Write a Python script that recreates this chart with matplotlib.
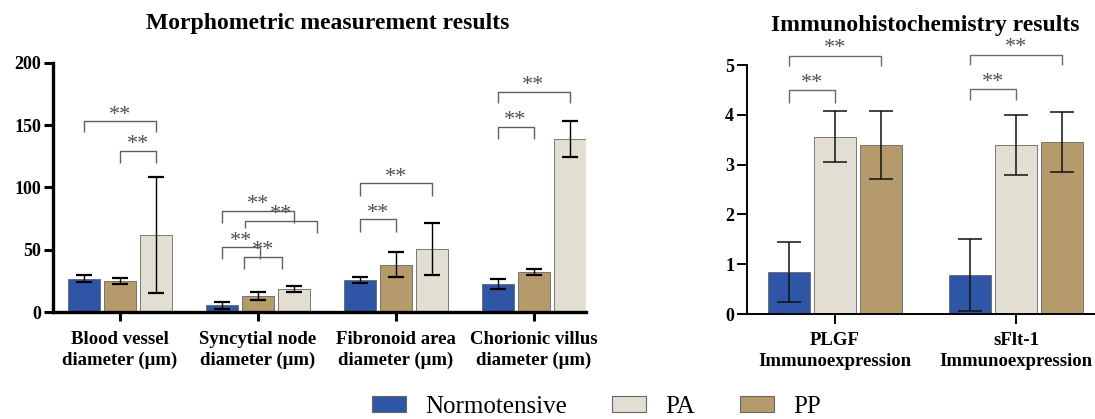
import matplotlib
matplotlib.use("Agg")
import matplotlib.pyplot as plt
from matplotlib.patches import Patch

plt.rcParams['font.family'] = ['Liberation Serif', 'DejaVu Serif']

# ---- data: morphometric measurements (order in each group: Normotensive, PP, PA)
morph_labels = ["Blood vessel\ndiameter (μm)", "Syncytial node\ndiameter (μm)",
                "Fibronoid area\ndiameter (μm)", "Chorionic villus\ndiameter (μm)"]
morph_norm = [27, 5.5, 26, 23]
morph_norm_err = [3, 2.5, 2.5, 4]
morph_pp = [25, 13, 38, 32]
morph_pp_err = [2.5, 3.3, 10, 2.5]
morph_pa = [62, 18.5, 50.5, 139]
morph_pa_err = [46.5, 2.5, 21, 14.5]

# ---- data: immunohistochemistry (order in each group: Normotensive, PA, PP)
ihc_labels = ["PLGF\nImmunoexpression", "sFlt-1\nImmunoexpression"]
ihc_norm = [0.84, 0.78]
ihc_norm_err = [0.6, 0.72]
ihc_pa = [3.56, 3.4]
ihc_pa_err = [0.51, 0.6]
ihc_pp = [3.4, 3.45]
ihc_pp_err = [0.68, 0.6]

# significance brackets: (x left, x right, top, left leg end, right leg end)
morph_sig = [
    (0 - 0.261, 0 + 0.261, 153.3, 144.2, 144.2),
    (0.0, 0 + 0.261, 129.5, 119.4, 119.4),
    (0.739, 1.261, 81.4, 71.3, 71.3),
    (0.907, 1.427, 73.4, 67.3, 63.3),
    (0.739, 1.016, 52.1, 42.7, 42.7),
    (0.902, 1.173, 44.6, 34.5, 34.5),
    (2 - 0.261, 2 + 0.261, 103.4, 93.4, 93.4),
    (2 - 0.261, 2.0, 74.8, 64.6, 64.6),
    (3 - 0.261, 3 + 0.261, 176.8, 168.0, 168.0),
    (3 - 0.261, 3.0, 148.7, 138.9, 138.9),
]
ihc_sig = [
    (0 - 0.254, 0 + 0.254, 5.19, 4.97, 4.97),
    (0 - 0.254, 0.0, 4.50, 4.24, 4.24),
    (1 - 0.254, 1 + 0.254, 5.21, 5.01, 5.01),
    (1 - 0.254, 1.0, 4.52, 4.30, 4.30),
]

c_norm = '#2f56a6'
c_pa = '#e2ded2'
c_pp = '#b59a6c'
edge = '#666666'


def draw_sig(ax, sig, color, lw, txt_off):
    for x1, x2, top, l1, l2 in sig:
        ax.plot([x1, x1, x2, x2], [l1, top, top, l2], color=color, lw=lw,
                clip_on=False, solid_capstyle='butt')
        ax.annotate('**', xy=((x1 + x2) / 2, top), xytext=(0, txt_off),
                    textcoords='offset points', ha='center', va='baseline',
                    fontsize=16, color='#505050', annotation_clip=False)


fig = plt.figure(figsize=(10.95, 4.19), dpi=100)
W, H = 1095, 419

# ---------------- left panel
ax1 = fig.add_axes([53.3 / W, 1 - 312.3 / H, (585.5 - 53.3) / W, (312.3 - 62.6) / H])
x = range(len(morph_labels))
bw = 0.232
st = 0.261
ekw = dict(elinewidth=1.0, capthick=1.6, ecolor='black')
ax1.bar([i - st for i in x], morph_norm, bw, yerr=morph_norm_err, color=c_norm,
        edgecolor=edge, linewidth=0.6, capsize=6, error_kw=ekw)
ax1.bar([i for i in x], morph_pp, bw, yerr=morph_pp_err, color=c_pp,
        edgecolor=edge, linewidth=0.6, capsize=6, error_kw=ekw)
ax1.bar([i + st for i in x], morph_pa, bw, yerr=morph_pa_err, color=c_pa,
        edgecolor=edge, linewidth=0.6, capsize=6, error_kw=ekw)
ax1.set_xlim(-0.483, 3.377)
ax1.set_ylim(0, 200)
ax1.set_yticks([0, 50, 100, 150, 200])
ax1.set_xticks(list(x))
ax1.set_xticklabels(morph_labels, fontsize=13.5, fontweight='bold', linespacing=1.28)
for lab in ax1.get_yticklabels():
    lab.set_fontweight('bold')
    lab.set_fontsize(13)
ax1.spines['top'].set_visible(False)
ax1.spines['right'].set_visible(False)
ax1.spines['left'].set_linewidth(2.4)
ax1.spines['bottom'].set_linewidth(2.4)
ax1.tick_params(axis='both', width=2.2, length=6.5)
ax1.tick_params(axis='y', pad=2)
ax1.tick_params(axis='x', pad=7)
draw_sig(ax1, morph_sig, '#606060', 1.0, 1)
fig.text(328 / W, 1 - 23 / H, "Morphometric measurement results", ha='center', va='center',
         fontsize=17, fontweight='bold')

# ---------------- right panel
ax2 = fig.add_axes([746.7 / W, 1 - 314 / H, (W - 746.7) / W, (314 - 65) / H])
x2 = range(len(ihc_labels))
bw2 = 0.232
st2 = 0.254
ekw2 = dict(elinewidth=1.1, capthick=1.1, ecolor='#111111')
ax2.bar([i - st2 for i in x2], ihc_norm, bw2, yerr=ihc_norm_err, color=c_norm,
        edgecolor=edge, linewidth=0.6, capsize=8.4, error_kw=ekw2)
ax2.bar([i for i in x2], ihc_pa, bw2, yerr=ihc_pa_err, color=c_pa,
        edgecolor=edge, linewidth=0.6, capsize=8.4, error_kw=ekw2)
ax2.bar([i + st2 for i in x2], ihc_pp, bw2, yerr=ihc_pp_err, color=c_pp,
        edgecolor=edge, linewidth=0.6, capsize=8.4, error_kw=ekw2)
ax2.set_xlim(-0.488, 1.436)
ax2.set_ylim(0, 5)
ax2.set_yticks([0, 1, 2, 3, 4, 5])
ax2.set_xticks(list(x2))
ax2.set_xticklabels(ihc_labels, fontsize=13.5, fontweight='bold', linespacing=1.28)
for lab in ax2.get_yticklabels():
    lab.set_fontweight('bold')
    lab.set_fontsize(13)
ax2.spines['top'].set_visible(False)
ax2.spines['right'].set_visible(False)
ax2.spines['left'].set_linewidth(1.4)
ax2.spines['bottom'].set_linewidth(1.4)
ax2.tick_params(axis='both', width=1.4, length=7)
ax2.tick_params(axis='y', pad=2)
ax2.tick_params(axis='x', pad=6)
draw_sig(ax2, ihc_sig, '#6a6a6a', 1.0, 1.5)
fig.text(925.5 / W, 1 - 25 / H, "Immunohistochemistry results", ha='center', va='center',
         fontsize=17, fontweight='bold')

# ---------------- legend
handles = [Patch(facecolor=c_norm, edgecolor=edge, linewidth=0.8, label='Normotensive'),
           Patch(facecolor=c_pa, edgecolor=edge, linewidth=0.8, label='PA'),
           Patch(facecolor=c_pp, edgecolor=edge, linewidth=0.8, label='PP')]
fig.legend(handles=handles, loc='center', bbox_to_anchor=(596.5 / W, 1 - 406.7 / H),
           ncol=3, frameon=False, fontsize=18, handlelength=1.36, handleheight=0.6,
           handletextpad=0.76, columnspacing=1.8)

fig.savefig('out.png', dpi=100)
